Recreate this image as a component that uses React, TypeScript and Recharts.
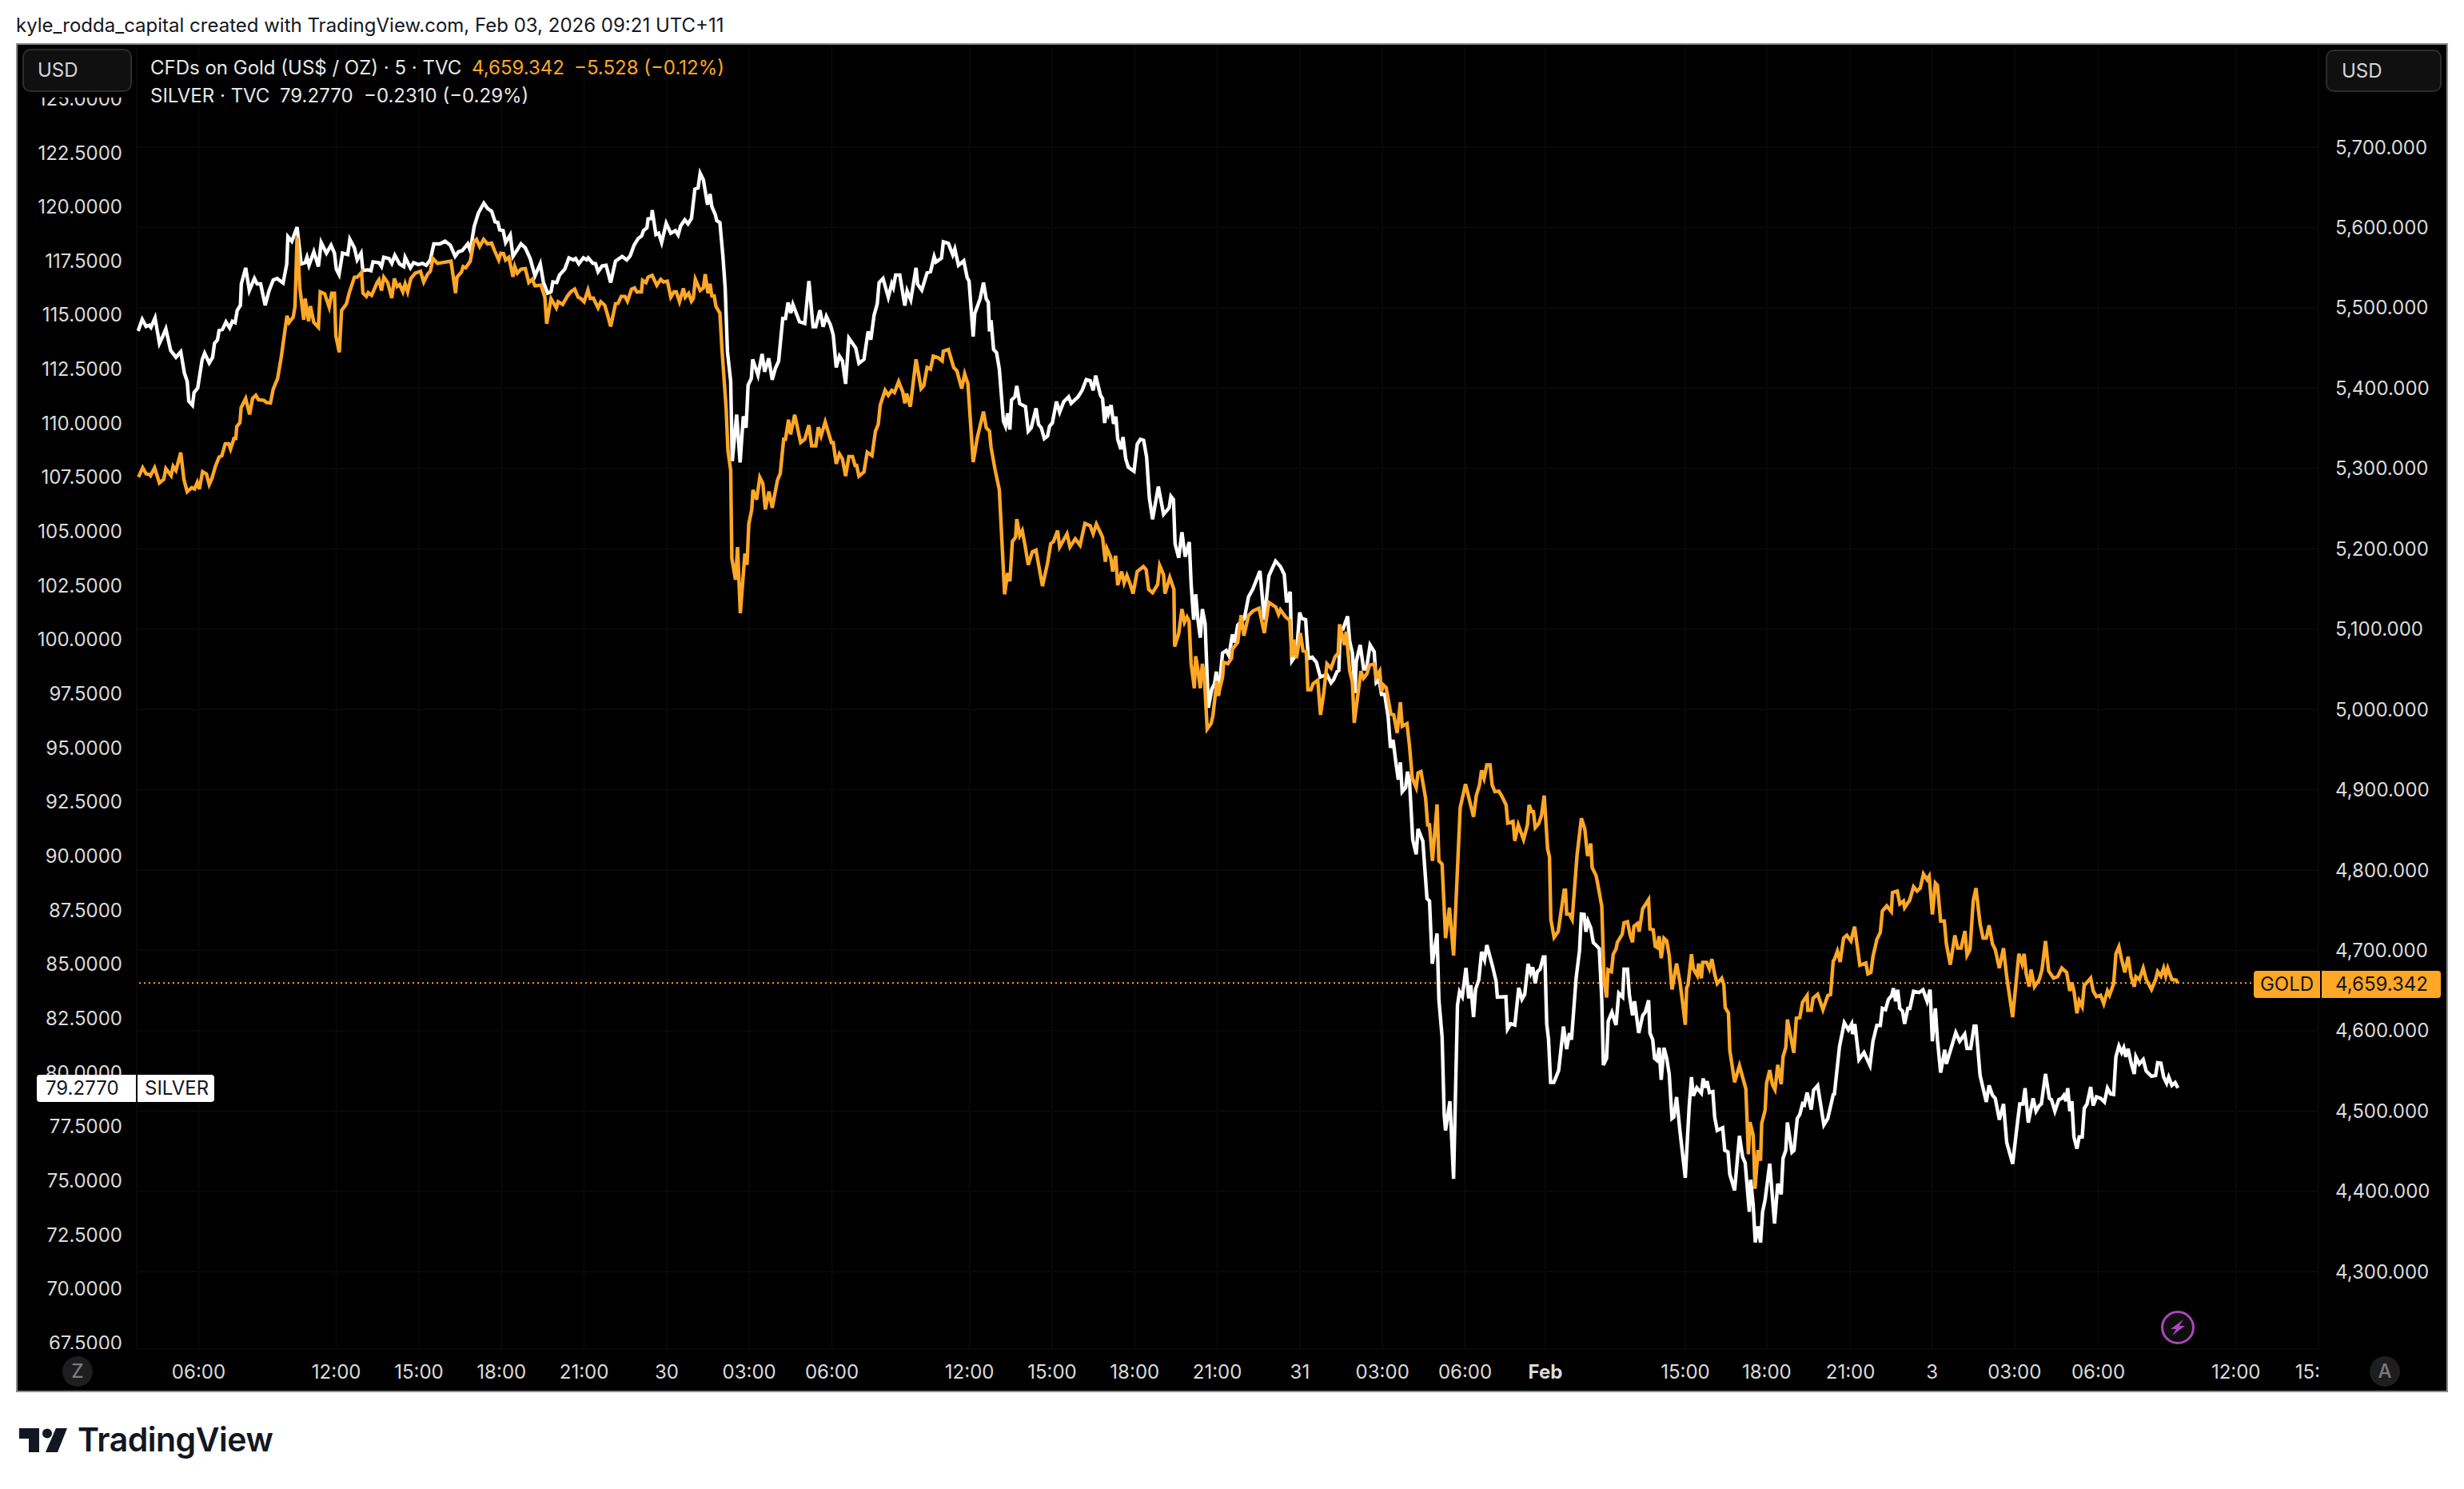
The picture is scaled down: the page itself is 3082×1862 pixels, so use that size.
import { LineChart, Line, XAxis, YAxis, CartesianGrid, ReferenceLine } from 'recharts'

// 5 minute bars counted from the left edge of the pane
const silverBars = [
  0.6, 2.4, 4.1, 5.5, 6.2, 8, 9.9, 11.3, 12.7, 14.8, 17.1, 19.2, 20.8, 22, 22.7, 24.3, 25, 26.6, 28.5, 29.6,
  31.6, 33.1, 33.9, 35.2, 35.9, 37.4, 38.9, 40.5, 41.7, 42.9, 43.8, 45.2, 45.6, 47.5, 49.1, 51.3, 52.5, 54, 56, 57.7,
  59.5, 61.2, 63.8, 65.4, 65.9, 67.6, 69.9, 71.7, 73.4, 74.2, 75.1, 77.2, 79.2, 80.4, 82.7, 84.7, 86.2, 87, 88.2, 89.7,
  92, 92.9, 94.9, 96.1, 97.8, 98.6, 100.7, 102.1, 103, 105.6, 106.7, 107.7, 110, 111.2, 112.5, 114.6, 116.4, 117, 119.3, 120.7,
  122.8, 124.5, 126.2, 128, 129.5, 132.1, 134.4, 136.7, 138.8, 140.2, 141.9, 144.3, 145.4,
  147.1, 148.9, 151.3, 152.9, 154.7, 156.2, 157.4, 158.2, 159.7, 160.8, 162.8, 164, 165.7, 167.5, 169.4, 171.5, 173.6, 175.9, 177.3,
  179.1, 180.6, 181.4, 183.1, 184.3, 186.6, 188.4, 190.3, 191.3, 192.7, 194.7, 196.1, 196.8, 198.8, 200, 201.1, 202.9, 204.6, 206.6, 208.7,
  211.6, 213.6, 215.1, 216.8, 218.6, 220.1, 220.9, 222.4, 222.9, 224.4, 224.7, 226.3, 227.5, 228.8, 230.8, 232.8, 234.8, 236, 237.1, 238.9,
  240.3, 241.8, 243.3, 244.7, 245.6, 247, 248.8, 249.9, 250.7, 252.2, 252.8, 254.2, 255.5, 256.5, 257.5, 258.9, 259.6, 261.5, 263, 264.4,
  265.6, 266.5, 267.9, 268.5, 270.8, 272.6, 273.7, 275.5, 277, 278.4, 279.8, 281.6, 282.8, 283.9, 285.1,
  286, 288.9, 291.2, 293, 294.8, 296, 297.8, 299.2, 300.6, 302.4, 303.6, 304.9, 306.3, 307.6, 309, 310.4, 313.4, 314.8, 317, 318.8,
  320, 321.4, 322.8, 323.6, 325.3, 327.6, 329.1, 329.8, 330.8, 332.6, 334.8, 335.8, 337.4, 339.7, 340.4, 342.2, 344.5, 346, 347.6, 348.4,
  350.8, 351.6, 353.8, 355.7, 356.6, 358.2, 360.5, 362, 362.8, 364.6, 365.3, 367.6, 369.1, 370.3, 371.2, 371.7, 372.4, 373.5, 374.8, 376,
  377.8, 378.7, 379.6, 380.6, 381.3, 382.8, 383.6, 384.9, 387.4, 388.6, 389.9, 392, 393.1, 394.3, 395.6, 397, 397.9, 399.1, 400.9, 402.3,
  404.1, 406.2, 407.3, 410.3, 412.1, 413.9, 415.6, 416.9, 418, 420.1, 421, 421.9, 422.9, 423.6, 424.7, 425.8, 426.8, 427.6, 429, 429.9,
  431.1, 432.2, 434.7, 436.1, 437.5, 438.9, 440.2, 441.4, 442.8, 445.3, 447.6, 450, 450.8, 451.9, 452.6, 454.2, 455.6, 457, 458.8,
  459.6, 460.7, 461.6, 462.5, 463.6, 464.5, 465.7, 467.1, 468.6, 469.8, 470.6, 471.5, 473.3, 474.9, 476.1, 477.6, 478.7, 479.9, 482.8, 484.6,
  486.5, 489.6, 491.5, 493.5, 496.4, 498.5, 500.2, 501.2, 502.8, 503.5, 505.5, 506.9, 507.8, 509.5, 510.7, 512.4, 514.2, 515.9, 518.8, 520.6,
  521.7, 523.2, 524, 524.6, 525.8, 527.8, 528.7, 529.9, 531, 531.6, 533.3, 534.8, 536, 537.6, 539.4, 540.3, 541.5, 542.6, 544, 545.5,
  546.5, 547.6, 549, 549.9, 550.8, 551.6, 553.1, 553.9, 554.8, 556.2, 557.7, 558.5, 560.6, 562.4, 563.5, 564.7, 566.8,
  567.6, 569, 569.9, 570.5, 572.4, 574, 575.7, 576.6, 577.8, 579.4, 580.6, 581.5, 582.7, 583.6, 585, 586.2, 587.5, 588.5, 591, 592.5,
  593.1, 596.8, 597.5, 598.9, 600.7, 602.4, 603.8, 605, 606.5, 607.6, 608.5, 609.6, 610.5, 611.7, 613.1, 613.8, 614.6, 615.4, 616.3, 617.7,
  619.8, 621.9, 623.3, 624.5, 625.4, 627.4, 628.9, 629.7, 630.9, 631.7, 632.6, 633.8, 634.9, 636.1, 637.5, 638.6, 639.3, 640.7, 641.4, 643,
  644.8, 646, 647.7, 648.3, 649.8, 650.6, 652, 652.9, 654.7, 656.4, 657.6, 659, 659.6, 660.8, 661.6, 662.6, 663.6, 664.5, 665.7, 666.9,
  668, 669.2, 670, 671.2, 672.7, 675, 676.7, 677.7, 678.5, 680, 682, 682.8, 683.7, 684.5, 685.5, 687, 687.8, 688.9, 691.3, 692.2,
  693.6, 694.4, 696.5, 698.6, 700, 701.1, 702.9, 703.5, 704.6, 705.5, 706.7, 707.8, 708.7, 709.8, 711.8, 713.9, 715.3, 716.8, 717.6, 718.8,
  719.5, 721.5, 722.4, 723.8, 724.9, 726.1, 726.9, 728.1, 729.9, 730.9, 732.7, 735.4, 737.1, 739.5,
  740, 742.2, 744.3, 746.1, 747.5, 747.9, 748.9, 750.7, 752.9, 755.5, 756.8, 758.5, 760, 760.9, 762.3, 763.5, 765, 765.7, 766.7, 767.6,
  768.5, 769.7, 770.6, 772, 772.9, 774.5, 776.9, 778.6, 780.4, 781.7, 782.7, 784, 784.9, 786.3, 788.1, 788.8, 792.9, 794.6, 796.8, 797.8,
  799.4, 800.9, 801.7, 803.5, 806.2, 807.4, 808.9, 810.1, 811.9, 813.7, 815.1, 817.7, 819.5, 820.8, 822.2, 823.1, 824.5, 826.6, 827.9, 829.3,
  830.2, 832, 833.7, 834.6, 836.1, 837.8, 839.1, 840, 840.9, 841.7, 842.6, 843.5, 844.4, 845.7, 846.7, 848, 848.9, 850.1, 851.7, 852.8,
  854.2, 856, 857.7, 859, 860.4, 861.7, 862.7, 864, 865.2, 866.1, 867, 868, 869.3, 870.7, 871.4, 872.9, 874.6, 875.9, 878.2, 880,
  880.9, 882.3, 883.5, 884.8, 885.7, 887.1, 888.5, 889.7,
]

const silverPrices = [
  114.26, 114.8, 114.47, 114.53, 114.43, 114.87, 113.69, 114.01, 114.36, 113.36, 113.05, 113.3, 112.31, 111.94, 111.02, 110.83, 111.42, 111.63, 112.93, 113.24,
  112.78, 113.05, 113.69, 113.85, 114.28, 114.34, 114.68, 114.41, 114.71, 114.65, 115.21, 115.45, 116.44, 117.18, 116.13, 116.69, 116.44, 116.44, 115.45, 116.13,
  116.62, 116.69, 116.48, 117.36, 118.62, 118.41, 119.06, 117.36, 117.42, 117.67, 117.3, 117.92, 117.24, 118.35, 117.86, 118.23, 117.86, 117.12, 116.87, 117.86,
  117.8, 118.5, 118.1, 117.55, 117.86, 117.05, 117.09, 117.05, 117.46, 117.42, 117.24, 117.67, 117.61, 117.39, 117.76, 117.36, 117.24, 117.67, 117.18, 117.42,
  117.33, 117.39, 117.3, 117.55, 118.29, 118.29, 118.41, 118.23, 117.71, 117.92, 117.98, 118.29, 117.98,
  119.09, 119.71, 120.17, 119.93, 119.8, 119.31, 119.28, 118.94, 118.9, 118.35, 118.7, 117.71, 117.98, 118.29, 118.1, 117.61, 116.81, 117.37, 116.5,
  116.01, 116.07, 116.53, 116.5, 116.85, 117.12, 117.64, 117.55, 117.61, 117.37, 117.64, 117.55, 117.64, 117.39, 117.37, 117, 117.27, 117.3, 116.5, 117.49,
  117.71, 117.55, 117.74, 118.23, 118.54, 118.66, 118.9, 119.03, 119.44, 119.46, 119.85, 118.72, 118.78, 118.35, 119.24, 118.78, 118.9, 118.7, 119.12, 119.4,
  119.21, 119.46, 120.82, 120.88, 121.55, 121.25, 120.1, 120.59, 120.01, 119.64, 119.36, 119.27, 117.74, 116.26, 113.3, 111.94, 108.25, 110.4, 108.19, 110.32,
  109.79, 111.76, 112.07, 112.95, 112.22, 113.2, 112.38, 113, 112.01, 112.54, 112.87, 114.84, 114.84, 115.58, 115.09,
  115.49, 114.69, 114.61, 116.57, 114.46, 114.46, 115.22, 114.46, 114.94, 114.54, 114.08, 112.58, 113.1, 112.88, 111.82, 113.93, 113.48, 112.77, 112.95, 114.24,
  113.86, 114.99, 115.52, 116.5, 116.69, 115.82, 116.45, 116.27, 116.85, 116.85, 115.44, 116.12, 115.7, 117.18, 116.42, 116.15, 116.95, 117, 117.7, 117.45,
  117.63, 118.38, 118.31, 117.78, 118.05, 117.3, 117.51, 116.72, 116.57, 114.01, 115.07, 115.74, 116.5, 115.74, 115.59, 114.24, 114.76, 113.41, 113.26, 112.5,
  110.09, 109.86, 110.46, 109.71, 111.07, 111.22, 111.72, 110.9, 110.77, 109.63, 109.79, 110.69, 109.94, 109.79, 109.29, 109.41, 109.86, 110.01, 111, 110.51,
  111, 111.22, 110.92, 111.22, 111.52, 112.02, 111.97, 111.52, 112.2, 111.29, 111.14, 110.01, 110.77, 110.46, 110.84, 109.97, 110.31, 109.26, 108.8, 109.36,
  108.35, 107.97, 107.78, 109.03, 109.26, 109.21, 108.43, 106.54, 105.56, 107.07, 105.79, 106.09, 106.62, 106.47, 104.43, 103.78, 104.96, 103.83, 104.51,
  102.58, 100.92, 102.09, 100.98, 100.09, 101.41, 100.73, 96.85, 97.71, 97.96, 98.52, 97.41, 99.38, 99.5, 99.26, 100.24, 99.87, 100.67, 100.98, 101.97,
  102.34, 103.17, 100.92, 102.95, 103.63, 103.38, 103.01, 101.72, 102.21, 99.01, 99.32, 101.25, 100.98, 100.92, 99.13, 99.19, 98.95, 98.27, 98.39, 98,
  98.15, 98.52, 98.58, 100.49, 100.49, 101.08, 99.93, 99.38, 97.53, 99.01, 99.75, 98.64, 98.64, 99.75, 99.44, 98.02, 98.15, 97.47, 97.47, 96.42,
  95, 95.37, 94.2, 93.53, 94.33, 92.97, 93.16, 93.9, 93.46, 90.75, 90.08, 91.25, 90.69, 88.04, 87.92, 85.02, 86.42,
  83.36, 81.63, 78.06, 77.32, 78.67, 75.08, 83.11, 83.73, 83.5, 84.83, 83.42, 84.03, 82.56, 83.85, 84.28, 85.57, 85.2, 85.88, 84.9, 84.22,
  83.48, 83.5, 82, 82.25, 82.19, 83.91, 83.38, 83.6, 85.02, 84.59, 84.86, 84.12, 84.65, 84.77, 85.33, 85.33, 82.25, 81.51, 79.54, 79.54,
  80.09, 82.12, 81.08, 81.82, 81.51, 84.34, 85.64, 87.32, 87.3, 86.5, 86.99, 86.68, 86, 85.88, 85.72, 83.36, 80.34, 80.65, 82.37, 82.78,
  82.19, 83.66, 83.48, 84.77, 84.77, 83.6, 82.64, 83.29, 81.82, 82.62, 82.8, 83.33, 81.82, 81.51, 80.65, 80.56, 81.14, 79.66, 81.14, 80.65,
  79.91, 77.87, 77.94, 78.86, 77.26, 75.13, 78.43, 79.78, 78.92, 79.29, 79.04, 79.72, 79.29, 79.6, 79.07, 79.11, 77.94, 77.32, 77.44, 76.4,
  76.33, 75.29, 74.55, 77.07, 76.09, 75.82, 73.56, 75.04, 73.87, 72.14, 72.88, 72.14, 73.56, 74.12, 75.78, 73.01, 74.86, 74.36, 76.03, 76.4,
  77.69, 76.31, 76.4, 77.87, 78.06, 78.55, 78.49, 79.07, 78.28, 79.17, 79.39, 77.57, 77.87, 78.98,
  79, 81.18, 82.3, 81.97, 82.24, 81.77, 82.24, 80.59, 80.92, 80.32, 81.44, 82.17, 82.17, 82.96, 82.9, 83.36, 83.56, 83.89, 83.29, 83.82,
  82.96, 82.83, 82.24, 82.96, 82.96, 83.75, 83.69, 83.82, 83.29, 83.82, 81.44, 82.96, 81.51, 79.99, 81.05, 80.39, 81.84, 81.44, 81.77, 81.11,
  81.11, 82.14, 82.14, 79.86, 78.63, 79.4, 78.94, 78.8, 77.81, 78.54, 76.76, 75.77, 77.42, 78.54, 78.54, 79.27, 77.68, 78.8, 78.21, 78.47,
  78.54, 79.93, 78.8, 78.74, 78.21, 78.74, 78.8, 78.94, 78.67, 79.27, 78.21, 78.67, 77.02, 76.47, 77.02, 77.02, 78.34, 78.54, 79.33, 78.47,
  78.87, 78.8, 78.63, 79.27, 79, 78.98, 80.72, 81.22, 80.92, 81.14, 80.72, 81.09, 80.45, 79.93, 80.72, 80.39, 80.59, 80.06, 79.82, 79.86,
  80.45, 80.43, 79.79, 79.5, 79.79, 79.4, 79.53, 79.277,
]

const goldBars = [
  0.8, 2.6, 4.1, 5.5, 6, 7.8, 9.9, 11.8, 12.7, 15, 15.9, 17.1, 19.2, 20.6, 22, 24, 25.2, 26.4, 27.3, 28.7,
  30.4, 31.6, 32.8, 34.3, 35.9, 37.1, 38.6, 40.1, 40.9, 42.4, 43.2, 43.6, 45, 45.5, 47.5, 49.2, 50.5, 51.9, 53.1, 55.4,
  56.6, 58.3, 59.5, 61.4, 63, 65.5, 66.4, 68.2, 69, 69.9, 71.1, 72.8, 73.4, 74.9, 75.7, 77.2, 79.2, 80, 81.9, 83.9,
  85, 86.2, 86.8, 88.3, 89.3, 91.4, 92.6, 94.9, 96.1, 98, 98.6, 100.1, 100.9, 102.4, 104.8, 105.6, 106.7, 107.7, 109.4, 111.2,
  112.3, 113.5, 114.6, 116, 117, 118.1, 119.5, 121.4, 123.7, 125.1, 126.8, 128, 129.1, 131.1, 133.2, 137, 139, 139.6, 141.6, 142.3,
  143.4, 145.4,
  146.9, 148.1, 149.5, 151.2, 152.9, 154.7, 156.2, 157.8, 158.7, 159.9, 160.8, 162.2, 164, 164.8, 165.9, 167.5, 169.4, 170.9, 172.4, 173.6,
  176.2, 177.9, 178.7, 180.6, 182.9, 183.7, 185.7, 187.8, 189.2, 190.9, 192.4, 193.6, 195, 196.7, 197.7, 199, 201.1, 202.3, 204, 205.2,
  206.6, 208.7, 209.8, 211.2, 212.8, 213.9, 215.7, 217, 218, 220, 220.5, 222, 222.9, 224.7, 226.7, 228.4, 229.6, 231.3, 232.8, 234.2,
  235.2, 236.6, 238.3, 239.1, 240.6, 241.8, 242.6, 243.5, 245.6, 247, 247.8, 249, 249.9, 250.7, 251.7, 252.5, 254.2, 255.1, 256.9, 257.7,
  258.9,
  259.4, 261, 261.9, 263.1, 265.1, 266, 266.8, 268.1, 268.6, 270.2, 271.6, 272.9, 274, 275.6, 277, 279.3, 280.5, 282, 282.8, 284.1,
  285, 286.8, 289.4, 291.2, 293, 294.2, 296, 297.1, 298.3, 300.1, 302.8, 303.6, 304.9, 306.3, 307.6, 309, 310.4, 312, 313.1, 313.8,
  314.8, 317, 318.4, 320.5, 322, 323.2, 324.1, 326.2, 327.6, 329.1, 330.3, 332.1, 333.9, 334.8, 335.6, 337.2, 339.7, 341.9, 343.1, 344.5,
  346, 347.2, 349.3, 351.1, 351.6, 353.8, 356.1, 357.5, 359.6, 360.9, 362.3, 364.6, 366.4, 369.1, 370.3, 371.7, 372.4, 374.2, 376, 378.3,
  379.6, 380.6, 381.7, 383.1, 383.6, 384.9, 386, 387.2, 388.6, 390.4, 392, 393.4, 394.8, 397, 398.4, 399.6, 401.4, 402.3, 405.5, 406.8,
  409.1, 411.2, 413.3, 415.6, 416.9, 418.3, 421, 422.2, 422.9, 424.5, 425.4, 426.7, 427.6, 429.3, 430.4, 431.6, 433.1, 434.3, 436.1, 438.8,
  440, 441.1, 442.8, 445, 445.9, 447.6, 448.2, 450.3, 452.1, 452.4, 454.2, 455.6,
  456.7, 457.8, 458.7, 459.6, 461, 461.6, 462.5, 463.6, 464.5, 465.4, 466.6, 468.3, 469.1, 470.8, 471.4, 473.3, 473.8, 475.6, 477.2, 477.6,
  479.9, 481.4, 482.6, 484.6, 486.5, 489.2, 491.5, 493.5, 496.5, 497.7, 498.5, 500.8, 502.6, 503.5, 504.3, 505.5, 507.2, 508.4, 509.8, 510.5,
  511.8, 512.8, 514.8, 516, 517.4, 518.8, 520.6, 522.3, 523.7, 524.3, 526.4, 527.2, 528.7, 529.9, 530.7, 533.6, 534.7, 536.2, 537.4, 539.4,
  540.3, 541.8, 542.6, 543.4, 544.6, 546.7, 547.9, 549.4, 550.8, 551.6, 553.7, 554.8, 556, 557.7, 558.5, 559.8, 561.8, 562.7, 563.5, 564.8,
  566.8, 567.6, 569, 570.5, 572.2, 574, 576.9, 579.2, 582.7, 583.9, 585.3, 586.2, 587.3, 588.5, 589.9, 590.8, 592, 593.7, 594.9, 596.9,
  597.6, 599.9, 600.7, 602.2, 604.5, 606.2, 606.9, 608, 608.8, 609.6, 611.1, 612.3, 613.5, 615, 615.8, 616.4, 617.8, 619.6, 622.2, 622.8,
  623.3, 624.5, 625.7, 627.8, 629.7, 631.2, 632.4, 633.8, 634.4, 636.1,
  636.7, 638.6, 639.6, 640.7, 641.3, 642.8, 643.6, 644.8, 645.4, 647.5, 648.3, 649.8, 651, 652, 652.6, 654.1, 654.9, 656.4, 659, 659.6,
  661, 661.9, 662.8, 663.6, 664.5, 665.7, 666.9, 668, 669.2, 671.2, 672.7, 673.8, 675, 675.6, 676.2, 677.7, 678.5, 680.2, 680.8, 682,
  682.6, 684.3, 685.5, 686.6, 687.8, 688.9, 690.9, 691.8, 692.4, 693.8, 694.4, 696.5, 698.6, 701.4, 702.5, 703.2, 704.6, 705.4, 706.7, 707.8,
  708.3, 709.8, 710.4, 711.8, 713, 714.1, 715.3, 716.8, 717.6, 718.8, 719.5, 722.3, 723.4, 724.9, 726.1, 728.1, 728.4, 729.9, 730.7, 732.7,
  735, 737.1, 738.3, 739.5,
  740, 741.3, 742.5, 744, 745.4, 747.2, 748.8, 751.1, 753.7, 754.6, 755.9, 756.8, 758.5, 760, 760.9, 762.8, 764.8, 765.3, 767.4, 768.5,
  770.1, 770.6, 772.8, 774.5, 776, 777.4, 778.8, 780.4, 781.3, 782.7, 784, 784.9, 786.3, 787.9, 788.8, 790.5, 792.5, 793.7, 795.2, 796.9,
  797.8, 799.1, 800.5, 801.7, 803.5, 804.8, 806.2, 807.4, 808.9, 810.1, 811.9, 813.7, 815.1, 817.7, 820.4, 821.8, 822.7, 823.6, 824.9, 825.7,
  827.2, 829.3, 830.5, 832, 833.4, 835.5, 837.3, 839.1, 841.2, 842.6, 843.5, 844.4, 845.7, 846.7, 848, 848.9, 850.1, 851.7, 852.8, 854.2,
  856, 857.4, 859, 859.9, 861.7, 862.7, 864, 865.2, 866.6, 868, 869.3, 870.7, 871.4, 872.9, 874.6, 875.9, 878.2, 880, 880.9, 882.3,
  883.5, 884.4, 885.3, 887.1, 888.9, 889.7,
]

const goldPrices = [
  5289.2, 5300.8, 5293.2, 5292.5, 5290.9, 5300.8, 5281.9, 5286.6, 5299.8, 5290.9, 5302.5, 5297.5, 5319.8, 5285.9, 5271, 5276, 5274.3, 5282.6, 5274.3, 5295.9,
  5293.2, 5280, 5287.6, 5302.5, 5314.1, 5315.8, 5330.7, 5330.7, 5324.1, 5337.3, 5337.3, 5352.3, 5357.2, 5375.5, 5387.1, 5367.2, 5387.1, 5391.1, 5385.4, 5384.8,
  5382.1, 5381.5, 5398.7, 5412, 5438.5, 5490, 5481.7, 5488.3, 5501.6, 5587.8, 5524.8, 5485, 5511.5, 5483.3, 5502.2, 5481.7, 5475.7, 5519.8, 5517.5, 5500.9,
  5518.2, 5518.2, 5465.1, 5444.5, 5496.6, 5504.9, 5518.2, 5538.1, 5538.1, 5544.1, 5518.2, 5514.2, 5518.8, 5515.5, 5531.4, 5534.8, 5521.5, 5538.1, 5531.4, 5512.2,
  5536.4, 5526.5, 5528.8, 5519.8, 5529.8, 5519.8, 5536.4, 5543, 5545.4, 5532.1, 5542, 5545.4, 5561.3, 5555.3, 5556.3, 5558, 5518.2, 5538.1, 5544.7, 5551.3,
  5549.7, 5558,
  5581.9, 5585.2, 5576.2, 5585.2, 5579.5, 5580.5, 5569.6, 5559.6, 5567.9, 5567.3, 5559.6, 5562.9, 5538.7, 5551.3, 5543, 5548, 5548.7, 5531.4, 5535.4, 5527.4,
  5528.1, 5513.2, 5480, 5511.5, 5499.9, 5507.5, 5504.2, 5514.8, 5519.8, 5523.1, 5513.2, 5511.5, 5507.5, 5522.1, 5511.5, 5512.2, 5499.9, 5507.5, 5503.2, 5491.6,
  5476.7, 5504.9, 5505.5, 5514.2, 5514.2, 5508.2, 5523.1, 5524.8, 5519.8, 5519.8, 5534.1, 5531.4, 5538.1, 5540.4, 5528.1, 5535.4, 5532.1, 5533.1, 5513.2, 5519.8,
  5519.8, 5507.5, 5524.1, 5513.2, 5518.1, 5508.2, 5511.5, 5535.4, 5521.5, 5524.8, 5542, 5518.1, 5529.8, 5514.8, 5514.8, 5501.6, 5493.3, 5448.5, 5375.5, 5322.4,
  5297.5,
  5188, 5161.6, 5202.2, 5119.7, 5194.1, 5179.9, 5230.7, 5249, 5273.3, 5261.1, 5288.8, 5281.4, 5249, 5271.3, 5251, 5285.5, 5293.6, 5336.3, 5336.3, 5360.7,
  5342.4, 5366.8, 5332.2, 5336.3, 5353.8, 5328.2, 5328.2, 5351.3, 5340.4, 5357.8, 5332.2, 5332.2, 5305.8, 5318, 5311.9, 5290.4, 5314.8, 5314.8, 5303.8, 5303.8,
  5290.4, 5295.7, 5320.1, 5316, 5346.5, 5354.6, 5379, 5397.2, 5391.1, 5397.2, 5394.4, 5408.2, 5395.2, 5381, 5393.2, 5376.9, 5435.8, 5399.3, 5403.3, 5425.7,
  5423.7, 5439.9, 5437.9, 5433.8, 5446, 5448, 5425.7, 5421.6, 5399.3, 5417.6, 5405.4, 5307.9, 5338.3, 5370.8, 5350.5, 5346.5, 5326.1, 5297.7, 5273.3, 5143.3,
  5169.7, 5159.6, 5209.1, 5214.4, 5236.8, 5216.4, 5222.5, 5204.3, 5179.9, 5196.1, 5198.2, 5175.8, 5153.5, 5181.9, 5206.3, 5209.1, 5222.5, 5202.2, 5218.5, 5202.2,
  5212.4, 5204.3, 5231.5, 5228.6, 5218.5, 5230.7, 5214.4, 5183.9, 5200.2, 5190, 5171.7, 5191.3, 5154.7, 5171.7, 5157.5, 5166.9, 5155.5, 5144.1, 5171.7, 5177.8,
  5173.8, 5149.4, 5145.3, 5155.5, 5179.1, 5167.7, 5144.1, 5164.4, 5149.4, 5078.3, 5094.5, 5125,
  5108.4, 5115, 5110, 5056.9, 5026.4, 5066.2, 5050.3, 5026.4, 5056.9, 5040.3, 4975.6, 4982.3, 4992.2, 5035.4, 5017.1, 5040.3, 5058.6, 5056.9, 5063.6, 5075.2,
  5083.5, 5117.3, 5091.8, 5116.7, 5122.6, 5126, 5095.1, 5133.3, 5127.3, 5118.3, 5124, 5115, 5110.7, 5065.2, 5086.8, 5063.6, 5095.1, 5072.9, 5071.9, 5024.4,
  5024.4, 5032.1, 5036.4, 4993.2, 5020.4, 5056.9, 5051.3, 5065.2, 5070.2, 5106, 5080.2, 5096.8, 5048.6, 5033.7, 4983.3, 5047.7, 5038.7, 5044.3, 5055.3, 5056.3,
  5040.3, 5047.7, 5022.1, 5030.4, 5027.1, 4993.9, 4993.2, 4970.7, 5008.8, 4979, 4982.3, 4954.1, 4914.3, 4902.7, 4920.9, 4922.6, 4889.4, 4856.2, 4856.2, 4811.4,
  4881.8, 4811.4, 4807.4, 4715.2, 4753.3, 4693.6, 4877.8, 4907, 4866.2, 4892.7, 4906, 4924.2, 4914.3, 4930.9, 4930.9, 4906, 4897.7, 4898.3, 4892.7, 4881.1,
  4858.5, 4860.5, 4836.3, 4856.2, 4838, 4856.2, 4881.1, 4872.8, 4872.8, 4852.9, 4857.9, 4867.8, 4892.7, 4826.3, 4816.4, 4738.4, 4716.2, 4723.5, 4774.9, 4774.9,
  4745.1, 4745.1, 4738.4, 4818.1, 4864.5, 4851.2, 4817.4, 4833, 4803.1, 4793.2,
  4784.8, 4754.9, 4662, 4641.4, 4676, 4673.6, 4695.2, 4701.8, 4710.1, 4720.1, 4734.4, 4735.7, 4718.4, 4710.1, 4730, 4733.4, 4723.4, 4751.6, 4763.2, 4726.7,
  4725.7, 4705.1, 4703.5, 4717.8, 4690.2, 4715.1, 4711.8, 4693.5, 4651.4, 4683.6, 4660.4, 4635.5, 4607.3, 4653.7, 4657, 4695.2, 4677, 4668.7, 4683.6, 4665.3,
  4685.2, 4685.2, 4677, 4689.2, 4670.3, 4658.7, 4665.3, 4657, 4628.8, 4622.2, 4575.7, 4535.9, 4556.5, 4527.6, 4446.3, 4486.2, 4469.6, 4403.2, 4451.3, 4438.1,
  4484.5, 4501.1, 4534.3, 4550.9, 4532.6, 4526.6, 4557.5, 4533.3, 4567.4, 4579.1, 4613.9, 4572.4, 4615.6, 4616.2, 4635.5, 4643.8, 4625.5, 4625.5, 4640.4, 4645.4,
  4626.2, 4643.8, 4644.8, 4686.9,
  4688.6, 4699.2, 4685.7, 4715.3, 4718.8, 4711.7, 4729.5, 4681.5, 4684.3, 4670.8, 4672.6, 4692.1, 4713.5, 4722.4, 4749, 4755.4, 4748.3, 4772.1, 4773.9, 4757.9,
  4761.5, 4753.3, 4762.5, 4779.2, 4773.9, 4777.5, 4795.2, 4788.1, 4792.4, 4744.8, 4783.9, 4781, 4736.6, 4736.6, 4708.1, 4682.2, 4718.8, 4702.8, 4702.8, 4724.1,
  4693.9, 4701, 4761.5, 4777.5, 4733, 4715.3, 4715.3, 4731.2, 4708.1, 4701, 4677.9, 4702.8, 4667.2, 4616.8, 4695.7, 4683.3, 4695.7, 4670.8, 4654.8, 4676.2,
  4654.8, 4663.7, 4676.2, 4711.7, 4674.4, 4665.5, 4667.3, 4677.9, 4672.6, 4649.5, 4660.1, 4649.5, 4621.8, 4637, 4629.9, 4656.6, 4660.1, 4665.5, 4649.5, 4642.4,
  4644.2, 4633.5, 4649.5, 4644.2, 4658.4, 4695.7, 4704.6, 4688.6, 4672.6, 4692.1, 4667.3, 4654.8, 4667.3, 4663.7, 4677.9, 4663.7, 4651.3, 4663.7, 4673.7, 4668,
  4677.9, 4668, 4677.9, 4663.7, 4663, 4659.342,
]

const timeTicks = [27, 87, 123, 159, 195, 231, 267, 303, 363, 399, 435, 471, 507, 543, 579, 614, 675, 710.5, 747, 782.6, 818.5, 855, 915, 951]
const timeLabels = ['06:00', '12:00', '15:00', '18:00', '21:00', '30', '03:00', '06:00', '12:00', '15:00', '18:00', '21:00', '31', '03:00', '06:00', 'Feb', '15:00', '18:00', '21:00', '3', '03:00', '06:00', '12:00', '15:']
const silverTicks = [125, 122.5, 120, 117.5, 115, 112.5, 110, 107.5, 105, 102.5, 100, 97.5, 95, 92.5, 90, 87.5, 85, 82.5, 80, 77.5, 75, 72.5, 70, 67.5]
const goldTicks = [5700, 5600, 5500, 5400, 5300, 5200, 5100, 5000, 4900, 4800, 4700, 4600, 4500, 4400, 4300]
const goldLast = 4659.342

const silverRows = silverBars.map((bar, i) => ({ bar, price: silverPrices[i] }))
const goldRows = goldBars.map((bar, i) => ({ bar, price: goldPrices[i] }))

const font = 'Inter, sans-serif'
const GOLD = '#ffa726'
const AXIS_TEXT = '#dbdbdb'

function TimeTick({ x, y, payload }: any) {
  const label = timeLabels[timeTicks.indexOf(payload.value)]
  const cut = label === '15:'
  return (
    <text
      x={cut ? x + 2 : x}
      y={y + 28}
      textAnchor={cut ? 'end' : 'middle'}
      dominantBaseline="central"
      fill={AXIS_TEXT}
      fontFamily={font}
      fontSize={24}
      fontWeight={label === 'Feb' ? 700 : 400}
    >
      {label}
    </text>
  )
}

function box(left: number, top: number, width: number, height: number, extra: any = {}) {
  return { position: 'absolute', left, top, width, height, boxSizing: 'border-box', ...extra } as any
}

function UsdBox({ left, top, width, height, textLeft }: any) {
  return (
    <div style={box(left, top, width, height, { background: '#101010', border: '2px solid #2c2c2c', borderRadius: 10 })}>
      <span style={{ position: 'absolute', left: textLeft, top: 0, lineHeight: `${height - 4}px`, color: '#d6d6d6', fontSize: 24 }}>USD</span>
    </div>
  )
}

function Badge({ cx, letter }: any) {
  return (
    <div style={box(cx - 19, 1696, 38, 38, { borderRadius: 19, background: '#1e1e1e', color: '#7c7c7c', fontSize: 24, fontWeight: 500, lineHeight: '38px', textAlign: 'center' })}>
      {letter}
    </div>
  )
}

export default function App() {
  return (
    <div style={{ position: 'absolute', left: 0, top: 0, width: 3082, height: 1862, background: '#fff', fontFamily: font, overflow: 'hidden' }}>
      <div style={{ position: 'absolute', left: 20, top: 18, lineHeight: '28px', fontSize: 24, color: '#131722', whiteSpace: 'nowrap' }}>
        kyle_rodda_capital created with TradingView.com, Feb 03, 2026 09:21 UTC+11
      </div>

      <div style={box(20, 54, 3042, 1687, { background: '#000' })}>
        <LineChart width={3042} height={1687} margin={{ top: 0, right: 0, bottom: 0, left: 0 }}>
          <CartesianGrid stroke="#080808" strokeWidth={2} yAxisId="gold" />
          <XAxis
            type="number"
            dataKey="bar"
            domain={[0, 951]}
            ticks={timeTicks}
            interval={0}
            height={54}
            axisLine={false}
            tickLine={false}
            tickSize={0}
            tickMargin={0}
            tick={<TimeTick />}
            allowDataOverflow
          />
          <YAxis
            yAxisId="silver"
            orientation="left"
            width={151}
            domain={[67.215, 127.563]}
            ticks={silverTicks}
            interval={0}
            axisLine={false}
            tickLine={false}
            tickSize={0}
            tickMargin={18}
            tick={{ fill: AXIS_TEXT, fontSize: 24, fontFamily: font }}
            tickFormatter={(v: number) => v.toFixed(4)}
            allowDataOverflow
          />
          <YAxis
            yAxisId="gold"
            orientation="right"
            width={162}
            domain={[4203.7, 5829.4]}
            ticks={goldTicks}
            interval={0}
            axisLine={false}
            tickLine={false}
            tickSize={0}
            tickMargin={21}
            tick={{ fill: AXIS_TEXT, fontSize: 24, fontFamily: font }}
            tickFormatter={(v: number) => v.toLocaleString('en-US', { minimumFractionDigits: 3 })}
            allowDataOverflow
          />
          <ReferenceLine yAxisId="gold" y={goldLast} stroke={GOLD} strokeWidth={2} strokeDasharray="2 4" />
          <Line yAxisId="silver" data={silverRows} dataKey="price" type="linear" stroke="#ffffff" strokeWidth={4.4} dot={false} activeDot={false} isAnimationActive={false} />
          <Line yAxisId="gold" data={goldRows} dataKey="price" type="linear" stroke={GOLD} strokeWidth={4.4} dot={false} activeDot={false} isAnimationActive={false} />
        </LineChart>
      </div>

      {/* clipped ends of the left price scale */}
      <div style={box(22, 56, 148, 66, { background: '#000' })} />
      <div style={box(22, 1687, 148, 9, { background: '#000' })} />

      <UsdBox left={28} top={61} width={137} height={54} textLeft={17} />
      <UsdBox left={2909} top={62} width={145} height={53} textLeft={18} />

      <div style={{ position: 'absolute', left: 188, top: 71, lineHeight: '28px', fontSize: 24, color: '#e8e8e8', whiteSpace: 'nowrap' }}>
        CFDs on Gold (US$ / OZ) · 5 · TVC
        <span style={{ position: 'absolute', left: 402, color: GOLD }}>4,659.342</span>
        <span style={{ position: 'absolute', left: 530, color: GOLD }}>−5.528 (−0.12%)</span>
      </div>
      <div style={{ position: 'absolute', left: 188, top: 106, lineHeight: '28px', fontSize: 24, color: '#e8e8e8', whiteSpace: 'nowrap' }}>
        SILVER · TVC
        <span style={{ position: 'absolute', left: 162 }}>79.2770</span>
        <span style={{ position: 'absolute', left: 267 }}>−0.2310 (−0.29%)</span>
      </div>

      {/* last price labels */}
      <div style={box(46, 1344, 124, 34, { background: '#fff', borderRadius: '4px 0 0 4px', color: '#131722', fontSize: 24, lineHeight: '34px', paddingLeft: 11 })}>79.2770</div>
      <div style={box(172, 1344, 96, 34, { background: '#fff', borderRadius: '0 4px 4px 0', color: '#131722', fontSize: 24, lineHeight: '34px', paddingLeft: 9 })}>SILVER</div>
      <div style={box(2819, 1214, 83, 34, { background: GOLD, borderRadius: '4px 0 0 4px', color: '#131722', fontSize: 24, lineHeight: '34px', textAlign: 'center' })}>GOLD</div>
      <div style={box(2904, 1214, 149, 34, { background: GOLD, borderRadius: '0 4px 4px 0', color: '#131722', fontSize: 24, lineHeight: '34px', paddingLeft: 17 })}>4,659.342</div>

      <Badge cx={97} letter="Z" />
      <Badge cx={2983} letter="A" />

      <svg style={box(2702, 1638, 44, 44)} viewBox="0 0 44 44">
        <circle cx="22" cy="22" r="19.5" fill="#0e0e0e" stroke="#ab47bc" strokeWidth="3" />
        <path d="M29 12 L13 24 L20 24 L15 32 L31 20 L24 20 Z" fill="#ab47bc" />
      </svg>

      <div style={box(20, 54, 3042, 1687, { border: '2px solid #8a8a8a', pointerEvents: 'none' })} />

      <svg style={box(24, 1786, 62, 31)} viewBox="0 0 62 31">
        <path d="M0 0 H25 V30 H12 V13 H0 Z" fill="#131722" />
        <circle cx="35" cy="6.5" r="6" fill="#131722" />
        <path d="M46 0 H60 L48 30 H33 Z" fill="#131722" />
      </svg>
      <div style={{ position: 'absolute', left: 97, top: 1776, lineHeight: '48px', fontSize: 41, fontWeight: 600, letterSpacing: -0.5, color: '#131722', whiteSpace: 'nowrap' }}>
        TradingView
      </div>
    </div>
  )
}
